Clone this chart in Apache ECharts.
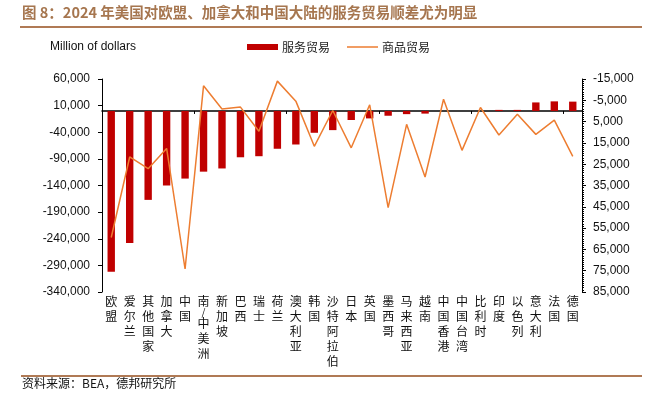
<!DOCTYPE html>
<html>
<head>
<meta charset="utf-8">
<script src="https://cdn.jsdelivr.net/npm/echarts@6/dist/echarts.min.js"></script>
<style>
html,body{margin:0;padding:0;background:#fff;}
#c{width:672px;height:396px;}
</style>
</head>
<body>
<div id="c"></div>
<script>
var categories = ['欧盟','爱尔兰','其他国家','加拿大','中国','南/中美洲','新加坡','巴西','瑞士','荷兰','澳大利亚','韩国','沙特阿拉伯','日本','英国','墨西哥','马来西亚','越南','中国香港','中国台湾','比利时','印度','以色列','意大利','法国','德国'];
var servicesTrade = [-302000,-248000,-167000,-140000,-127000,-114000,-108000,-87000,-85000,-71000,-63000,-41000,-36000,-17000,-14000,-9000,-6000,-5000,0,0,0,2000,2000,16000,18000,17500];
var goodsTrade = [59400,21600,27100,17600,74200,-11800,-900,-1800,9500,-14000,-4600,16600,-200,17300,-2900,45400,6300,31000,-5500,18500,-1600,11300,1600,11000,4300,21300];
var leftTicks = {min:-340000, max:60000, interval:50000};
var rightTicks = {min:-15000, max:85000, interval:10000};
var titleText = '图 8：2024 年美国对欧盟、加拿大和中国大陆的服务贸易顺差尤为明显';
var sourceText = '资料来源：BEA，德邦研究所';
var unitText = 'Million of dollars';

function fmt(v){
  var s = Math.abs(v).toString().replace(/\B(?=(\d{3})+(?!\d))/g, ',');
  return (v < 0 ? '-' : '') + s;
}
function vertical(v){
  return v.split('').map(function(ch){
    return ch === '/' ? '{s|/}' : '{c|' + ch + '}';
  }).join('\n');
}
var chart = echarts.init(document.getElementById('c'), null, {renderer:'canvas'});
var axisFont = 'Liberation Sans, Arial, sans-serif';
var cjk = '"Noto Sans CJK SC", sans-serif';
chart.setOption({
  animation:false,
  backgroundColor:'#fff',
  grid:{left:102, right:90, top:79, bottom:104, containLabel:false},
  legend:{
    left:247, top:41, padding:0, itemGap:17, itemWidth:31, itemHeight:6,
    textStyle:{fontFamily:cjk, fontSize:12, color:'#222', padding:[0,0,0,-1]},
    data:[
      {name:'服务贸易', icon:'rect'},
      {name:'商品贸易', icon:'path://M0,0 L62,0 L62,3 L0,3 Z'}
    ]
  },
  graphic:[
    {type:'text', left:22, top:5, style:{text:titleText, font:'bold 14.5px "Noto Sans CJK SC", sans-serif', fill:'#a6764f'}},
    {type:'rect', shape:{x:20, y:26, width:622, height:2}, style:{fill:'#b07a55'}},
    {type:'text', left:50, top:41, style:{text:unitText, font:'12px Liberation Sans, Arial, sans-serif', fill:'#111'}},
    {type:'rect', shape:{x:21, y:375, width:621, height:2}, style:{fill:'#b07a55'}},
    {type:'text', left:22, top:377, style:{text:sourceText, font:'12px "Noto Sans CJK SC", sans-serif', fill:'#111'}}
  ],
  xAxis:[
    {type:'category', data:categories, boundaryGap:true,
     axisLine:{onZero:true, lineStyle:{color:'#000', width:1.5}},
     axisTick:{show:true, inside:false, length:3, lineStyle:{color:'#000'}},
     axisLabel:{show:false}},
    {type:'category', data:categories, position:'bottom', boundaryGap:true,
     axisLine:{show:false, onZero:false}, axisTick:{show:false},
     axisLabel:{interval:0, margin:2, color:'#111', verticalAlign:'top',
       formatter:vertical,
       rich:{
         c:{fontFamily:cjk, fontSize:12, color:'#111', lineHeight:15},
         s:{fontFamily:cjk, fontSize:10, color:'#111', lineHeight:7}
       }}}
  ],
  yAxis:[
    {type:'value', min:leftTicks.min, max:leftTicks.max, interval:leftTicks.interval, position:'left',
     axisLine:{show:true, lineStyle:{color:'#000', width:1}},
     axisTick:{show:true, length:4, lineStyle:{color:'#000'}},
     splitLine:{show:false},
     axisLabel:{margin:12, fontFamily:axisFont, fontSize:12, color:'#111', formatter:fmt}},
    {type:'value', min:rightTicks.min, max:rightTicks.max, interval:rightTicks.interval, position:'right', inverse:true,
     axisLine:{show:true, lineStyle:{color:'#000', width:1}},
     axisTick:{show:true, length:4, lineStyle:{color:'#000'}},
     minorTick:{show:true, splitNumber:10, length:2, lineStyle:{color:'#000'}},
     splitLine:{show:false},
     axisLabel:{margin:11, fontFamily:axisFont, fontSize:12, color:'#111', formatter:fmt}}
  ],
  series:[
    {name:'服务贸易', type:'bar', xAxisIndex:0, yAxisIndex:0, data:servicesTrade, barWidth:'40%',
     itemStyle:{color:'#c00000'}, z:2},
    {name:'商品贸易', type:'line', xAxisIndex:0, yAxisIndex:1, data:goodsTrade, symbol:'none',
     lineStyle:{color:'#ed7d31', width:1.5}, itemStyle:{color:'#ed7d31'}, z:3}
  ]
});
</script>
</body>
</html>
